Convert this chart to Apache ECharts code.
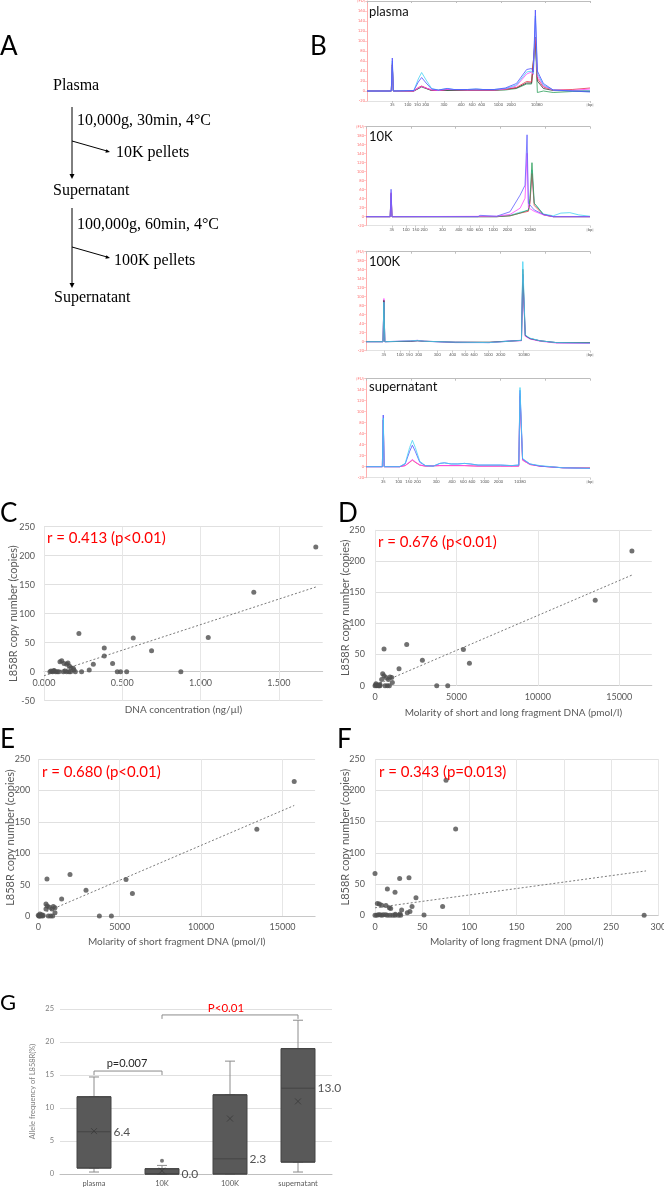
<!DOCTYPE html>
<html><head><meta charset="utf-8">
<script src="https://cdn.jsdelivr.net/npm/echarts@6/dist/echarts.min.js"></script>
<style>html,body{margin:0;padding:0;background:#fff}#c{width:664px;height:1190px}</style>
</head><body><div id="c"></div>
<script>
// ---------- Panel A (flowchart text) ----------
const flowTexts = ['Plasma','10,000g, 30min, 4°C','10K pellets','Supernatant','100,000g, 60min, 4°C','100K pellets','Supernatant'];

// ---------- Panel B (electropherograms) ----------
const ladderLabels = ['35','100','150','200','300','400','500','600','1000','2000','10380','[bp]'];
const ladderPlasma = [11.3,18.3,22.6,26.3,34.5,42.2,47.1,51.4,58.9,64.6,76.1,100];
const ladder10K    = [11.5,17.9,22.2,25.9,34.1,41.5,46.4,50.6,56.8,63.1,73.2,100];
const ladder100K   = [8.0,15.2,19.3,23.5,31.8,38.7,44.1,48.2,54.6,60.1,70.4,100];
const ladderSup    = [7.7,14.6,19.1,22.9,31.3,38.4,43.4,47.3,53.0,59.1,68.8,100];
const bTitles = ['plasma','10K','100K','supernatant'];
const fuMax = [180,200,200,160];

const plasmaBlue = [[0,0],[10.9,0],[11.35,66],[11.8,0],[21,1],[23,18],[24.5,27],[26.5,16],[29,4],[32,2],[36,5],[39,3],[45,3],[49,4],[52,3],[57,3],[62,6],[67,15],[71.6,43],[73.8,45],[74.6,38],[75.5,162],[76.4,40],[79.1,15],[83.5,2],[92,0],[100,-2]];
const plasmaCyan = [[0,0],[10.9,0],[11.35,60],[11.8,0],[21,1],[23,24],[24.5,37],[26.5,22],[29,5],[32,2],[36,5],[39,3],[45,3],[49,4],[52,3],[57,3],[62,5],[67,12],[71.6,38],[73.8,40],[74.6,35],[75.5,150],[76.4,35],[79.1,12],[83.5,2],[92,0],[100,0]];
const plasmaMagenta = [[0,0],[10.9,0],[11.35,50],[11.8,0],[21,0],[23,6],[24.5,9],[26.5,6],[29,2],[32,1],[36,3],[45,2],[57,2],[62,4],[67,10],[71.6,34],[73.8,38],[74.6,33],[75.5,145],[76.4,30],[79.1,10],[83.5,2],[92,1],[100,4]];
const plasmaRed = [[0,0],[10.9,0],[11.35,55],[11.8,0],[21,0],[23,7],[24.5,10],[26.5,6],[29,2],[32,1],[36,3],[45,2],[57,2],[62,3],[67,7],[71.6,19],[73.8,18],[74.6,15],[75.5,105],[76.4,25],[79.1,8],[83.5,2],[92,3],[100,6]];
const plasmaGreen = [[0,0],[10.9,0],[11.35,48],[11.8,0],[21,0],[24.5,8],[29,1],[45,1],[57,1],[62,2],[67,5],[71.6,14],[73.8,14],[74.6,10],[75.5,100],[76.4,-3],[79.1,0],[83.5,-3],[92,-1],[100,-1]];
const plasmaBlack = [[0,0],[10.9,0],[11.35,52],[11.8,0],[21,0],[24.5,9],[29,1],[45,2],[57,2],[67,6],[71.6,16],[73.8,16],[74.6,12],[75.5,108],[76.4,20],[79.1,5],[83.5,1],[100,0]];

const k10Blue = [[0,0],[10.8,0],[11.2,61],[11.6,0],[50,0],[50.9,3],[51.5,0],[58.3,1],[64.3,11],[68.8,48],[71,70],[71.9,182],[72.5,30],[75.1,15],[79.2,5],[83.6,0],[100,0]];
const k10Magenta = [[0,0],[10.8,0],[11.2,53],[11.6,0],[58.3,1],[64.3,5],[68.8,19],[71,41],[71.9,141],[72.5,20],[75.1,12],[79.2,4],[83.6,0],[100,0]];
const k10Green = [[0,0],[10.8,0],[11.2,50],[11.6,0],[58.3,0],[64.3,2],[68.8,8],[72.5,15],[73.2,40],[74.1,120],[75.1,30],[79.2,5],[83.6,0],[100,0]];
const k10Red = [[0,0],[10.8,0],[11.2,53],[11.6,0],[58.3,0],[64.3,2],[68.8,8],[72.5,12],[73.2,30],[74.1,96],[75.1,25],[79.2,4],[83.6,0],[100,0]];
const k10Cyan = [[0,0],[10.8,0],[11.2,45],[11.6,0],[58.3,0],[64.3,3],[68.8,10],[72.5,14],[73.2,35],[74.1,104],[75.1,30],[79.2,6],[83.6,2],[87,8],[91,9],[95,4],[100,1]];

const k100Cyan = [[0,0],[7.6,0],[8.0,88],[8.4,0],[20,2],[23,3],[26,1],[40,-1],[55,-2],[64,1],[69.4,3],[70.0,178],[71.1,15],[73.2,8],[77.7,2],[85,-2],[100,-3]];
const k100Black = [[0,0],[7.6,0],[8.0,92],[8.4,0],[20,1],[23,2],[26,1],[40,-1],[55,-1],[64,1],[69.4,3],[70.0,161],[71.1,14],[73.2,7],[77.7,2],[85,-2],[100,-2]];
const k100Magenta = [[0,0],[7.6,0],[8.0,96],[8.4,0],[20,2],[23,3],[26,1],[40,-1],[55,-2],[64,1],[69.4,2],[70.0,144],[71.1,12],[73.2,6],[77.7,1],[85,-3],[100,-4]];
const k100Blue = [[0,0],[7.6,0],[8.0,90],[8.4,0],[20,1],[23,2],[26,1],[40,-2],[55,-2],[64,2],[69.4,3],[70.0,150],[71.1,13],[73.2,7],[77.7,2],[85,-2],[100,-3]];

const supCyan = [[0,0],[7.3,0],[7.7,88],[8.1,0],[15,0],[17.5,6],[19.5,35],[20.7,48],[22,35],[24,10],[26.5,2],[30,1],[33,6],[35,7],[38,5],[41,5],[44,6],[46.5,5],[50,3],[60,3],[65,2],[68.2,3],[68.75,144],[69.9,15],[73.2,5],[77.7,2],[88,-2],[100,-3]];
const supBlue = [[0,0],[7.3,0],[7.7,94],[8.1,0],[15,0],[17.5,5],[19.5,28],[20.7,39],[22,28],[24,8],[26.5,2],[30,1],[33,6],[35,7],[38,5],[41,5],[44,6],[46.5,5],[50,3],[60,3],[65,2],[68.2,3],[68.75,139],[69.9,14],[73.2,5],[77.7,1],[88,-2],[100,-3]];
const supMagenta = [[0,0],[7.3,0],[7.7,85],[8.1,0],[15,0],[17.5,2],[19.5,9],[20.7,13],[22,9],[24,3],[26.5,1],[33,2],[38,2],[44,2],[50,1],[60,1],[68.2,1],[68.75,133],[69.9,12],[73.2,4],[77.7,1],[88,-2],[100,-3]];
const supRed = [[0,0],[7.3,0],[7.7,85],[8.1,0],[15,0],[17.5,2],[19.5,8],[20.7,12],[22,8],[24,3],[26.5,1],[33,2],[38,2],[44,2],[50,1],[60,1],[68.2,1],[68.75,128],[69.9,12],[73.2,4],[77.7,1],[88,-2],[100,-2]];

// ---------- Panels C-F (scatter) ----------
const cTitle = 'r = 0.413 (p<0.01)';
const cXTicks = [0,0.5,1.0,1.5];
const cX = [1.736,1.340,1.049,0.570,0.687,0.223,0.385,0.385,0.315,0.438,0.289,0.240,0.468,0.489,0.528,0.874,0.102,0.113,0.128,0.145,0.153,0.162,0.172,0.187,0.191,0.038,0.045,0.055,0.065,0.075,0.085,0.123,0.135,0.145,0.160,0.170,0.200,0.060,0.095];
const cY = [215,137,59,58,36,66,41,27,13,14,3,0,0,0,0,0,17,19,14,13,15,10,7,6,3,0,1,0,2,0,0,0,1,0,0,0,0,1,0];
const cTrend = [[0,-7],[1.736,146]];

const dTitle = 'r = 0.676 (p<0.01)';
const dXTicks = [0,5000,10000,15000];
const dX = [15779,13525,5430,5799,1947,2910,1475,553,3791,4467,471,553,676,410,820,922,1025,1066,615,758,881,307,102,0,205,61,307,40,150,250];
const dY = [216,137,58,36,66,41,27,59,0,0,19,16,13,10,10,14,13,5,0,0,0,2,0,0,0,3,0,1,1,0];
const dTrend = [[300,4],[15779,177.5]];

const eTitle = 'r = 0.680 (p<0.01)';
const eXTicks = [0,5000,10000,15000];
const eX = [15717,13422,5389,5779,1947,2930,1434,533,3750,4488,471,553,676,471,840,922,1025,1025,615,758,881,205,61,143,266,0,100,300,40];
const eY = [214,138,58,36,66,41,27,59,0,0,19,16,14,11,11,15,13,5,0,0,0,2,0,0,0,1,3,1,0];
const eTrend = [[512,7],[15717,176]];

const fTitle = 'r = 0.343 (p=0.013)';
const fXTicks = [0,50,100,150,200,250,300];
const fX = [75.2,85.4,0,36,26.1,13.1,21.2,43.4,71.6,285,51.9,2.5,4.6,7.1,11.6,15.2,16.6,39.2,37,34.2,28.2,26.5,21.5,0,1.8,3.5,5.3,7.1,8.8,11.3,13.1,15.9,18.7,21.2,24.7,27.2];
const fY = [216,138,67,60,59,42,37,28,14,0,0.5,19,18,16,15.5,12,11,14,6,4,8.5,2,1.5,0,0,1,1,0,1,1,0,0,0,0,0,0];
const fTrend = [[0,12],[287,71]];

// ---------- Panel G (box plot) ----------
const gCats = ['plasma','10K','100K','supernatant'];
const gBox = [[0.3,0.9,6.4,11.7,14.7],[0,0,0,0.8,1.3],[0,0,2.3,12.0,17.1],[0.3,1.8,13.0,19.0,23.3]];
const gMean = [6.5,0.5,8.4,11.0];
const gOutliers = [['10K',2.0]];
const bracket1 = [['plasma',15.0],['plasma',15.6],['10K',15.6],['10K',15.0]];
const bracket2 = [['10K',23.5],['10K',24.1],['supernatant',24.1],['supernatant',23.5]];
const bracketTexts = ['p=0.007','P<0.01'];

// ================= build =================
const FONT = 'Lato, "Open Sans", sans-serif';
const chart = echarts.init(document.getElementById('c'), null, {renderer:'canvas', width:664, height:1190});
const grids = [], xAxes = [], yAxes = [], series = [];

const bPanels = [
  {ladder: ladderPlasma, box:[367,1,223,100], traces:[[plasmaGreen,'#2ca05a'],[plasmaBlack,'#333333'],[plasmaRed,'#e8304a'],[plasmaMagenta,'#ff45ff'],[plasmaCyan,'#45d2f2'],[plasmaBlue,'#5050ff']]},
  {ladder: ladder10K, box:[366,126.7,224,99], traces:[[k10Cyan,'#45d2f2'],[k10Red,'#e8304a'],[k10Green,'#2ca05a'],[k10Magenta,'#ff45ff'],[k10Blue,'#6060ff']]},
  {ladder: ladder100K, box:[366,251.7,224,99], traces:[[k100Blue,'#6060ff'],[k100Magenta,'#ff45ff'],[k100Black,'#333333'],[k100Cyan,'#45d2f2']]},
  {ladder: ladderSup, box:[366,378.7,224,99], traces:[[supRed,'#e8304a'],[supMagenta,'#ff45ff'],[supBlue,'#5050ff'],[supCyan,'#45d2f2']]}
];
bPanels.forEach((p,i) => {
  const gi = grids.length;
  grids.push({left:p.box[0], top:p.box[1], width:p.box[2], height:p.box[3], outerBoundsMode:'none', containLabel:false});
  const xb = xAxes.length;
  const ladder = p.ladder;
  xAxes.push({type:'value', gridIndex:gi, min:0, max:100, position:'bottom',
    axisLine:{show:true, onZero:false, lineStyle:{color:'#cfcfcf', width:0.6}},
    axisTick:{show:true, customValues:ladder, length:2, lineStyle:{color:'#999', width:0.5}},
    axisLabel:{customValues:ladder, fontSize:4, color:'#555', margin:2, fontFamily:FONT,
      formatter: v => { const k = ladder.findIndex(q => Math.abs(q - v) < 1e-6); return k >= 0 ? ladderLabels[k] : ''; }},
    splitLine:{show:false}});
  xAxes.push({type:'value', gridIndex:gi, min:0, max:100, position:'top',
    axisLine:{show:true, onZero:false, lineStyle:{color:'#bdbdbd', width:1}},
    axisTick:{show:true, length:2, inside:true, lineStyle:{color:'#bdbdbd'}}, axisLabel:{show:false}, splitLine:{show:false}});
  const yi = yAxes.length;
  const fm = fuMax[i];
  yAxes.push({type:'value', gridIndex:gi, min:-20, max:fm, interval:20,
    axisLine:{show:true, lineStyle:{color:'#ff9a9a', width:0.8}},
    axisTick:{show:true, length:2, lineStyle:{color:'#ff9a9a', width:0.5}},
    axisLabel:{fontSize:4, color:'#ff7070', margin:2, fontFamily:FONT, formatter: v => v === fm ? '[FU]' : String(v)},
    splitLine:{show:false}});
  p.traces.forEach(t => series.push({type:'line', xAxisIndex:xb, yAxisIndex:yi, data:t[0], symbol:'none', showSymbol:false,
    lineStyle:{color:t[1], width:0.8}, itemStyle:{color:t[1]}, silent:true, z:2}));
});

function addScatter(cfg){
  const gi = grids.length;
  grids.push({left:cfg.box[0], top:cfg.box[1], width:cfg.box[2], height:cfg.box[3], outerBoundsMode:'none', containLabel:false});
  const xi = xAxes.length;
  // x axis drawn at value 0 of the y axis (Excel style)
  const zeroOffset = -cfg.box[3] * (0 - cfg.yMin) / (250 - cfg.yMin);
  xAxes.push({type:'value', gridIndex:gi, min:cfg.xMin, max:cfg.xMax, offset:zeroOffset,
    name:cfg.xName, nameLocation:'middle', nameGap:cfg.xGap, nameMoveOverlap:false,
    nameTextStyle:{fontSize:10, color:'#595959', fontFamily:FONT},
    axisLine:{show:true, onZero:false, lineStyle:{color:'#c8c8c8', width:1}}, axisTick:{show:false},
    axisLabel:{customValues:cfg.xTicks, fontSize:9, color:'#595959', margin:7, fontFamily:FONT, formatter: cfg.xFmt},
    splitLine:{show:false}});
  const yi = yAxes.length;
  yAxes.push({type:'value', gridIndex:gi, min:cfg.yMin, max:250, interval:50,
    name:'L858R copy number (copies)', nameLocation:'middle', nameGap:cfg.yGap, nameMoveOverlap:false,
    nameTextStyle:{fontSize:11, color:'#595959', fontFamily:FONT},
    axisLine:{show:false}, axisTick:{show:false},
    axisLabel:{fontSize:9, color:'#595959', margin:cfg.yMargin, fontFamily:FONT},
    splitLine:{show:true, lineStyle:{color:'#e0e0e0', width:1}}});
  series.push({type:'line', xAxisIndex:xi, yAxisIndex:yi, data:cfg.trend, symbol:'none', silent:true, z:3,
    lineStyle:{color:'#7a7a7a', width:1, type:[2,2]},
    markLine:{silent:true, symbol:['none','none'], label:{show:false}, animation:false, z:1,
      lineStyle:{color:'#e6e6e6', type:'solid', width:1}, emphasis:{disabled:true}, data: cfg.xTicks.map(v => ({xAxis:v}))}});
  series.push({type:'scatter', xAxisIndex:xi, yAxisIndex:yi, data:cfg.xs.map((x,k) => [x, cfg.ys[k]]),
    symbolSize:5, itemStyle:{color:'#4d4d4d'}, silent:true, z:4});
}
addScatter({box:[44,526.7,278.7,174], xMin:0, xMax:1.78, yMin:-50, xTicks:cXTicks, xFmt: v => v.toFixed(3),
  xName:'DNA concentration (ng/µl)', xGap:33, yGap:25.5, yMargin:9, xs:cX, ys:cY, trend:cTrend});
addScatter({box:[375,529.9,276.8,155.8], xMin:0, xMax:17000, yMin:0, xTicks:dXTicks, xFmt: v => String(v),
  xName:'Molarity of short and long fragment DNA (pmol/l)', xGap:22, yGap:24.5, yMargin:10, xs:dX, ys:dY, trend:dTrend});
addScatter({box:[38.3,759,276.8,157], xMin:0, xMax:17000, yMin:0, xTicks:eXTicks, xFmt: v => String(v),
  xName:'Molarity of short fragment DNA (pmol/l)', xGap:21, yGap:22.8, yMargin:8, xs:eX, ys:eY, trend:eTrend});
addScatter({box:[375,759,283.3,156.3], xMin:0, xMax:300, yMin:0, xTicks:fXTicks, xFmt: v => String(v),
  xName:'Molarity of long fragment DNA (pmol/l)', xGap:21, yGap:24.5, yMargin:10, xs:fX, ys:fY, trend:fTrend});

// Panel G
const gg = grids.length;
grids.push({left:60, top:1009, width:272, height:165, outerBoundsMode:'none', containLabel:false});
const gx = xAxes.length;
xAxes.push({type:'category', gridIndex:gg, data:gCats, axisLine:{show:true, lineStyle:{color:'#bfbfbf'}}, axisTick:{show:false},
  axisLabel:{fontSize:7.5, color:'#595959', margin:6, fontFamily:FONT}, splitLine:{show:false}});
const gx2 = xAxes.length;
xAxes.push({type:'category', gridIndex:gg, data:gCats, show:false});
const gy = yAxes.length;
yAxes.push({type:'value', gridIndex:gg, min:0, max:25, interval:5,
  name:'Allele frequency of L858R(%)', nameLocation:'middle', nameGap:23, nameMoveOverlap:false,
  nameTextStyle:{fontSize:7.5, color:'#7f7f7f', fontFamily:FONT},
  axisLine:{show:false}, axisTick:{show:false}, axisLabel:{fontSize:7.5, color:'#7f7f7f', margin:6, fontFamily:FONT},
  splitLine:{show:true, lineStyle:{color:'#e0e0e0'}}});
series.push({type:'boxplot', xAxisIndex:gx, yAxisIndex:gy, data:gBox, boxWidth:[10,10], silent:true, z:2,
  itemStyle:{color:'#595959', borderColor:'#8c8c8c', borderWidth:1}});
series.push({type:'boxplot', xAxisIndex:gx2, yAxisIndex:gy, data:gBox.map(b => [b[1],b[1],b[2],b[3],b[3]]), boxWidth:[34,34], silent:true, z:3,
  itemStyle:{color:'#595959', borderColor:'#454545', borderWidth:1}});
series.push({type:'scatter', xAxisIndex:gx, yAxisIndex:gy, data:gCats.map((c,k) => [c, gMean[k]]), symbol:'path://M0,0L10,10M10,0L0,10',
  symbolSize:6, itemStyle:{color:'none', borderColor:'#3a3a3a', borderWidth:1}, silent:true, z:5});
series.push({type:'scatter', xAxisIndex:gx, yAxisIndex:gy, data:gOutliers, symbolSize:4, itemStyle:{color:'#595959'}, silent:true, z:5});
series.push({type:'scatter', xAxisIndex:gx, yAxisIndex:gy, data:gCats.map((c,k) => [c, gBox[k][2]]), symbolSize:1,
  itemStyle:{color:'rgba(0,0,0,0)'}, silent:true, z:6,
  label:{show:true, position:'right', distance:19, fontSize:12, color:'#262626', fontFamily:FONT, formatter: p => p.value[1].toFixed(1)}});
[bracket1, bracket2].forEach(b => series.push({type:'line', xAxisIndex:gx, yAxisIndex:gy, data:b, symbol:'none', silent:true, z:4,
  lineStyle:{color:'#8c8c8c', width:1}}));

// ---------- graphic: labels & flowchart ----------
function txt(t, x, y, font, fill, align){
  return {type:'text', silent:true, z:10, style:{text:t, x:x, y:y, font:font, fill:fill||'#000',
    align:align||'left', textAlign:align||'left', verticalAlign:'middle', textVerticalAlign:'middle'}};
}
function ln(x1,y1,x2,y2){ return {type:'line', silent:true, z:10, shape:{x1,y1,x2,y2}, style:{stroke:'#000', lineWidth:1}}; }
function tri(pts){ return {type:'polygon', silent:true, z:10, shape:{points:pts}, style:{fill:'#000'}}; }
const SERIF = '16px "Liberation Serif", "DejaVu Serif", serif';
const LET = '26px ' + FONT;
const graphic = [
  txt('A', 0, 47, LET), txt('B', 310, 47, LET), txt('C', 0, 514, LET), txt('D', 338, 514, LET),
  txt('E', 0, 740, LET), txt('F', 337, 740, LET), txt('G', 0, 1003, '22px ' + FONT),
  txt(flowTexts[0], 53, 86, SERIF), txt(flowTexts[1], 77, 121, SERIF), txt(flowTexts[2], 116, 153, SERIF),
  txt(flowTexts[3], 53, 191, SERIF), txt(flowTexts[4], 77, 225, SERIF), txt(flowTexts[5], 114, 261, SERIF),
  txt(flowTexts[6], 54, 298, SERIF),
  ln(72,107,72,176), tri([[69.5,174],[74.5,174],[72,179]]),
  ln(72,141,107,151), tri([[110,152],[105.4,152.8],[106.4,149.3]]),
  ln(72,208,72,285), tri([[69.5,283],[74.5,283],[72,288]]),
  ln(72,247,107,257), tri([[110,258],[105.4,258.8],[106.4,255.3]]),
  txt(bTitles[0], 369, 12, '13px ' + FONT, '#111'), txt(bTitles[1], 369, 137, '13px ' + FONT, '#111'),
  txt(bTitles[2], 369, 262, '13px ' + FONT, '#111'), txt(bTitles[3], 369, 387, '13px ' + FONT, '#111'),
  txt(cTitle, 47, 538, '15px ' + FONT, '#ff0000'), txt(dTitle, 378, 542, '15px ' + FONT, '#ff0000'),
  txt(eTitle, 42, 772, '15px ' + FONT, '#ff0000'), txt(fTitle, 379, 772, '15px ' + FONT, '#ff0000'),
  txt(bracketTexts[0], 127, 1063, '11px ' + FONT, '#262626', 'center'),
  txt(bracketTexts[1], 226, 1008, '11.5px ' + FONT, '#ff0000', 'center')
];

chart.setOption({animation:false, backgroundColor:'#fff', grid:grids, xAxis:xAxes, yAxis:yAxes, series:series, graphic:graphic});
</script></body></html>
